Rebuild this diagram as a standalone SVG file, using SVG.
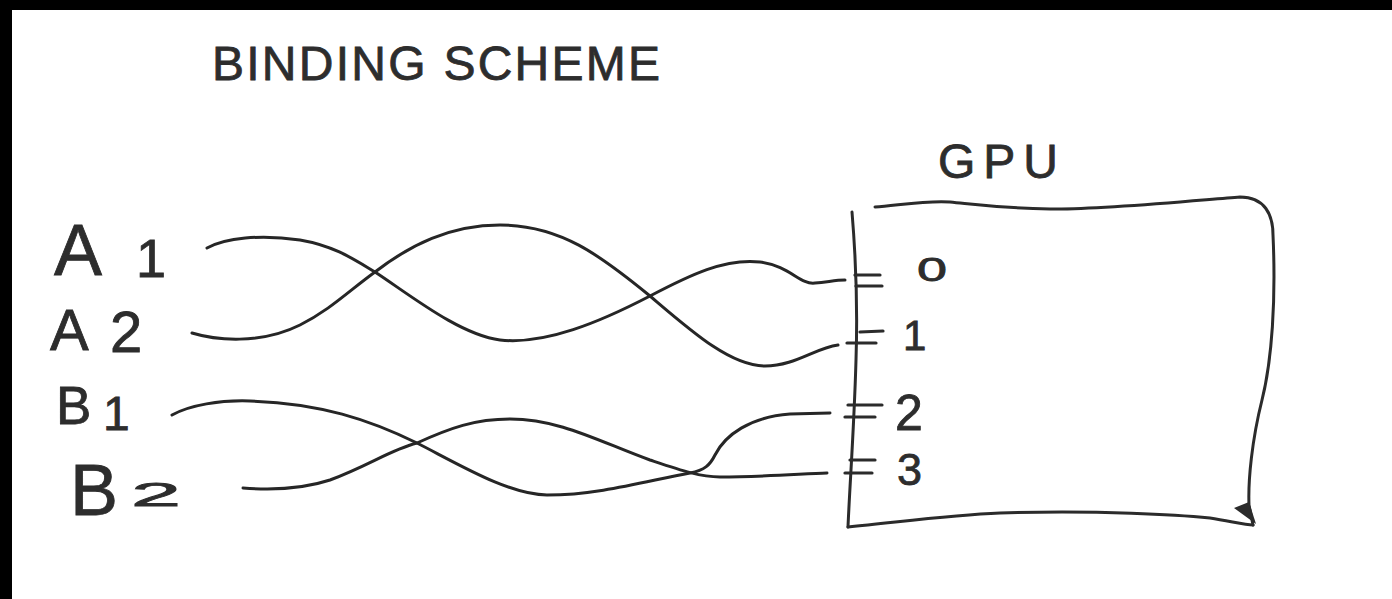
<svg xmlns="http://www.w3.org/2000/svg" width="1392" height="599" viewBox="0 0 1392 599">
<style>
.ink{fill:none;stroke:#2b2b2b;stroke-width:3;stroke-linecap:round;stroke-linejoin:round}
.wire{fill:none;stroke:#262626;stroke-width:3;stroke-linecap:round}
.tick{stroke:#2b2b2b;stroke-width:3.2;stroke-linecap:round}
text{font-family:"Liberation Sans","DejaVu Sans",sans-serif;fill:#2d2d2d;stroke:#2d2d2d;stroke-width:0.8}
</style>
<rect width="1392" height="599" fill="#ffffff"/>
<rect x="0" y="0" width="1392" height="10" fill="#000"/>
<rect x="0" y="0" width="12" height="599" fill="#000"/>

<g id="title">
<text x="212" y="80" font-size="48" textLength="448" lengthAdjust="spacing">BINDING SCHEME</text>
</g>

<g id="gpu">
<text x="938" y="178" font-size="48" textLength="120" lengthAdjust="spacing">GPU</text>
<path class="ink" d="M852,212 C856,260 858,300 856,360 C854,430 850,480 848,527"/>
<path class="ink" d="M875,207 C900,205 930,200 950,202 C980,205 1000,208 1050,209 C1100,210 1200,200 1240,197 C1265,197 1273,215 1273,235 C1276,300 1272,360 1262,400 C1252,440 1248,480 1249,505 L1253,525"/>
<path class="ink" d="M848,527 C900,522 950,515 1000,513 C1100,510 1180,515 1210,518 C1230,521 1245,525 1253,525"/>
<path d="M1234,508 L1249,502 L1256,524 Z" fill="#2b2b2b"/>
<g id="port0">
<line class="tick" x1="855" y1="275" x2="880" y2="275"/>
<line class="tick" x1="856" y1="286" x2="882" y2="286"/>
<text x="917" y="281" font-size="34" textLength="30" lengthAdjust="spacingAndGlyphs">0</text>
</g>
<g id="port1">
<line class="tick" x1="860" y1="332" x2="883" y2="331"/>
<line class="tick" x1="847" y1="343" x2="876" y2="343"/>
<text x="903" y="350" font-size="42">1</text>
</g>
<g id="port2">
<line class="tick" x1="848" y1="405" x2="882" y2="405"/>
<line class="tick" x1="845" y1="417" x2="875" y2="417"/>
<text x="895" y="430" font-size="50">2</text>
</g>
<g id="port3">
<line class="tick" x1="850" y1="460" x2="875" y2="460"/>
<line class="tick" x1="845" y1="473" x2="872" y2="473"/>
<text x="897" y="485" font-size="45">3</text>
</g>
</g>

<g id="A1"><text><tspan x="54" y="275" font-size="72">A</tspan><tspan x="136" y="277" font-size="54">1</tspan></text></g>
<g id="A2"><text><tspan x="50" y="350" font-size="58">A</tspan><tspan x="110" y="352" font-size="58">2</tspan></text></g>
<g id="B1"><text><tspan x="56" y="424" font-size="53">B</tspan><tspan x="103" y="430" font-size="48">1</tspan></text></g>
<g id="B2"><text><tspan x="70" y="515" font-size="72">B</tspan><tspan x="131" y="506" font-size="34" textLength="50" lengthAdjust="spacingAndGlyphs">2</tspan></text></g>

<g id="connectors">
<path class="wire" d="M207,248 C225,238 260,234 300,240 C335,246 355,260 375,272 C410,295 460,335 500,340 C545,345 600,322 650,296 C690,275 725,258 760,262 C790,266 800,285 815,283 C828,282 835,280 845,280"/>
<path class="wire" d="M192,333 C215,340 260,345 300,325 C330,310 350,290 375,272 C410,245 450,225 500,225 C560,225 600,255 650,296 C690,330 730,366 765,366 C795,366 815,348 838,345"/>
<path class="wire" d="M172,415 C190,405 220,400 250,401 C320,403 370,420 417,443 C460,465 510,495 547,495 C600,495 650,480 690,473 C705,470 710,465 715,455 C725,435 750,417 790,414 L830,413"/>
<path class="wire" d="M243,488 C270,490 300,490 330,480 C370,465 390,450 417,443 C450,428 475,419 510,419 C560,419 600,442 650,460 C680,470 700,477 720,477 C760,477 800,474 827,473"/>
</g>
</svg>
